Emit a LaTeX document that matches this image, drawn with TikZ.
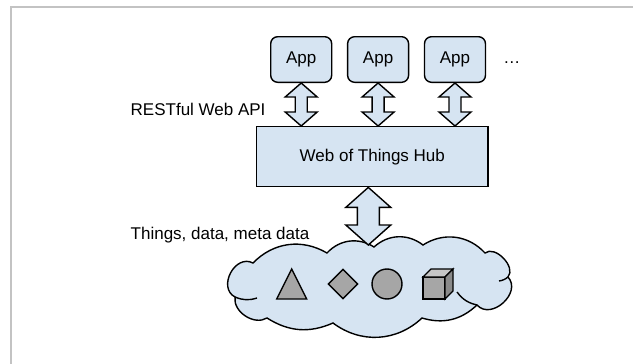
\documentclass[tikz,border=0pt]{standalone}
\usepackage{fontspec}
\setmainfont{Liberation Sans}
\usepackage{xcolor}
\usepackage{tikz}
\usetikzlibrary{shapes.geometric,positioning,calc}

\definecolor{boxblue}{HTML}{D6E4F2}
\definecolor{thinggray}{HTML}{A6A6A6}
\definecolor{thinglight}{HTML}{C6C6C6}
\definecolor{thingdark}{HTML}{8A8A8A}
\definecolor{framegray}{HTML}{C3C3C3}

\tikzset{
    fatarrow/.style n args={3}{draw, fill=boxblue, line width=1.4pt, line join=miter,
        to path={let \p1=(\tikztostart), \p2=(\tikztotarget) in
            (\x1,\y1) -- (\x1+#1/2,\y1-#2) -- (\x1+#3/2,\y1-#2) -- (\x1+#3/2,\y2+#2)
            -- (\x1+#1/2,\y2+#2) -- (\x1,\y2) -- (\x1-#1/2,\y2+#2) -- (\x1-#3/2,\y2+#2)
            -- (\x1-#3/2,\y1-#2) -- (\x1-#1/2,\y1-#2) -- cycle}},
    apilink/.style={fatarrow={32pt}{14pt}{12pt}},
    datalink/.style={fatarrow={45pt}{20pt}{22pt}}
}

\begin{document}
\begin{tikzpicture}[
    x=1pt, y=-1pt,
    font=\fontsize{17}{20}\selectfont,
    appbox/.style={rectangle, draw, line width=1.4pt, fill=boxblue, rounded corners=7pt,
        minimum width=61pt, minimum height=45.6pt, inner sep=0pt},
    hubbox/.style={rectangle, draw, line width=1.4pt, fill=boxblue,
        minimum width=231.3pt, minimum height=60pt, inner sep=0pt},
    cloudline/.style={draw, line width=1.4pt, fill=boxblue},
    puff/.style={bend left=#1},
    thing/.style={draw, line width=1.4pt, fill=thinggray, line join=miter},
    label/.style={anchor=west, inner sep=0pt}
]
\useasboundingbox (0,0) rectangle (633,364);

% frame of the screenshot
\draw[framegray, line width=2pt] (633,7) -- (11,7) -- (11,364);

% apps and hub
\node[appbox] (app1) at (301.2,59.5) {App};
\node[appbox, right=14.5pt of app1] (app2) {App};
\node[appbox, right=14.5pt of app2] (app3) {App};
\node[right=17pt of app3.base east, anchor=base west, inner sep=0pt] (more) {\textellipsis};
\node[hubbox] (hub) at (372.3,156.7) {Web of Things Hub};

\node[label] (api) at (130.5,109) {RESTful Web API};
\node[label] (data) at (130.5,235) {Things, data, meta data};

% the cloud of things
\draw[cloudline] (253,263) to[puff=38] (327,253) to[puff=40] (374,247) to[puff=40] (423,245)
    to[puff=40] (485,253) to[puff=85] (508,277) to[puff=90, looseness=1.3] (477,305)
    to[puff=30] (422,318) to[puff=40] (333,323) to[puff=28] (267,318)
    to[puff=65] (235,297) to[puff=90, looseness=1.35] cycle;
\draw[line width=1.4pt] (235,297) to[bend right=20] (257,298);
\draw[line width=1.4pt] (508,277) to[bend left=15] (499,281);
\draw[line width=1.4pt] (477,305) to[bend left=20] (457,292);
\coordinate (landing) at (368.3,245);

\draw[thing] (276.7,299) -- (306.7,299) -- (291.7,269) -- cycle;
\node[thing, diamond, minimum size=30pt, inner sep=0pt] (gem) at (343,284) {};
\node[thing, circle, minimum size=30pt, inner sep=0pt] (ball) at (387,284) {};
\draw[thing] (423,277) rectangle (445,299);
\draw[thing, fill=thinglight] (423,277) -- (431,269) -- (453,269) -- (445,277) -- cycle;
\draw[thing, fill=thingdark] (445,277) -- (453,269) -- (453,291) -- (445,299) -- cycle;

% links
\draw[apilink] (app1.south) to (app1.south |- hub.north);
\draw[apilink] (app2.south) to (app2.south |- hub.north);
\draw[apilink] (app3.south) to (app3.south |- hub.north);
\draw[datalink] (hub.south -| landing) to (landing);

\end{tikzpicture}
\end{document}
